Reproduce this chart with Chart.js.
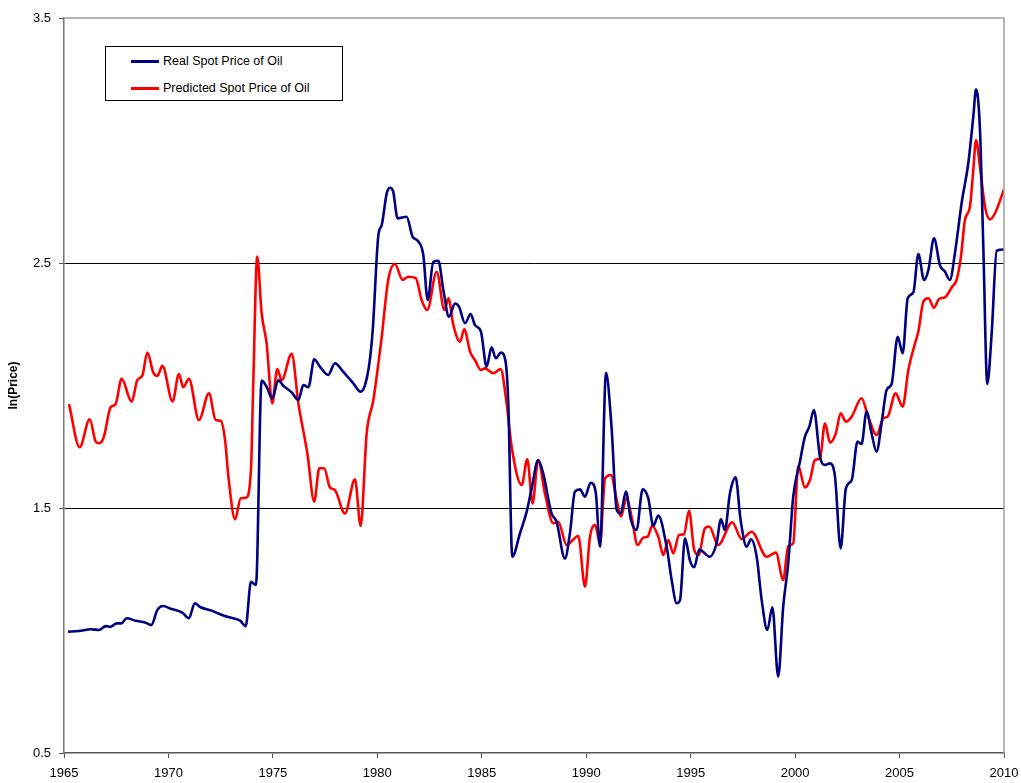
<!DOCTYPE html>
<html>
<head>
<meta charset="utf-8">
<script src="https://cdn.jsdelivr.net/npm/chart.js@4/dist/chart.umd.min.js"></script>
<style>
  body { margin:0; background:#fff; font-family:"Liberation Sans", Arial, sans-serif; }
  #wrap { position:relative; width:1021px; height:783px; }
  #legend { position:absolute; left:105px; top:46px; width:236px; height:53px; border:1px solid #000; background:#fff; font-size:12.5px; color:#000; }
  .item { position:absolute; left:25px; height:14px; line-height:14px; white-space:nowrap; }
  .item i { display:inline-block; width:28px; height:3px; vertical-align:middle; margin-right:4px; }
</style>
</head>
<body>
<div id="wrap">
  <canvas id="c" width="1021" height="783"></canvas>
  <div id="legend">
    <div class="item" style="top:7px"><i style="background:#000080"></i>Real Spot Price of Oil</div>
    <div class="item" style="top:34px"><i style="background:#ff0000"></i>Predicted Spot Price of Oil</div>
  </div>
</div>
<script>
// --- data (year, ln price) ---
const realYears = [1965.19,1965.72,1966.28,1966.68,1967.0,1967.23,1967.52,1967.75,1968.0,1968.43,1968.91,1969.18,1969.47,1969.74,1970.11,1970.66,1970.98,1971.26,1971.54,1972.10,1972.66,1973.10,1973.43,1973.70,1973.95,1974.19,1974.46,1974.70,1974.97,1975.26,1975.50,1975.90,1976.22,1976.46,1976.70,1976.98,1977.25,1977.65,1977.97,1978.37,1978.85,1979.20,1979.41,1979.62,1979.78,1980.05,1980.21,1980.45,1980.61,1980.76,1980.97,1981.40,1981.69,1981.93,1982.20,1982.41,1982.68,1982.92,1983.16,1983.43,1983.72,1983.91,1984.20,1984.47,1984.67,1984.96,1985.23,1985.47,1985.67,1985.92,1986.14,1986.27,1986.46,1986.83,1987.15,1987.39,1987.70,1987.94,1988.34,1988.58,1988.98,1989.22,1989.46,1989.70,1989.94,1990.21,1990.45,1990.66,1990.95,1991.21,1991.46,1991.65,1991.90,1992.14,1992.41,1992.70,1992.97,1993.21,1993.45,1993.85,1994.09,1994.33,1994.49,1994.73,1994.97,1995.17,1995.41,1995.92,1996.24,1996.45,1996.64,1996.88,1997.15,1997.39,1997.68,1997.89,1998.16,1998.40,1998.67,1998.91,1999.19,1999.43,1999.67,1999.91,2000.23,2000.47,2000.68,2000.90,2001.19,2001.43,2001.67,2001.91,2002.18,2002.43,2002.71,2002.99,2003.18,2003.42,2003.66,2003.90,2004.14,2004.38,2004.62,2004.91,2005.15,2005.39,2005.66,2005.90,2006.17,2006.38,2006.65,2006.93,2007.17,2007.41,2007.65,2007.97,2008.29,2008.53,2008.66,2008.85,2009.01,2009.20,2009.41,2009.65,2010.0];
const realValues = [0.995,0.998,1.005,1.002,1.018,1.015,1.029,1.029,1.050,1.040,1.032,1.022,1.084,1.100,1.089,1.073,1.050,1.111,1.095,1.080,1.060,1.050,1.040,1.018,1.199,1.186,2.020,1.995,1.948,2.022,1.999,1.972,1.941,2.002,1.993,2.107,2.077,2.043,2.091,2.056,2.009,1.975,2.002,2.091,2.227,2.614,2.655,2.784,2.807,2.791,2.682,2.689,2.607,2.591,2.533,2.349,2.505,2.509,2.390,2.281,2.335,2.322,2.254,2.292,2.247,2.220,2.077,2.156,2.111,2.134,2.097,1.927,1.301,1.397,1.485,1.580,1.696,1.641,1.478,1.444,1.294,1.397,1.567,1.576,1.546,1.603,1.567,1.342,2.052,1.832,1.492,1.478,1.567,1.451,1.410,1.576,1.540,1.427,1.469,1.342,1.206,1.111,1.124,1.376,1.284,1.258,1.330,1.301,1.356,1.454,1.410,1.560,1.625,1.451,1.342,1.372,1.301,1.124,1.002,1.095,0.811,1.097,1.274,1.546,1.689,1.791,1.832,1.900,1.709,1.676,1.682,1.628,1.335,1.580,1.614,1.771,1.761,1.893,1.805,1.730,1.846,1.982,2.006,2.199,2.131,2.356,2.380,2.537,2.431,2.471,2.601,2.492,2.465,2.431,2.540,2.744,2.907,3.097,3.209,3.043,2.567,2.006,2.213,2.550,2.555];

const predYears = [1965.24,1965.75,1966.23,1966.52,1966.68,1966.91,1967.23,1967.47,1967.76,1968.24,1968.51,1968.75,1968.99,1969.28,1969.47,1969.71,1970.20,1970.50,1970.71,1970.98,1971.46,1971.94,1972.26,1972.50,1972.71,1972.87,1973.19,1973.46,1973.71,1973.95,1974.06,1974.25,1974.46,1974.70,1974.97,1975.21,1975.42,1975.90,1976.22,1976.65,1976.98,1977.22,1977.45,1977.73,1977.97,1978.45,1978.93,1979.20,1979.49,1979.81,1980.21,1980.52,1980.84,1981.21,1981.48,1981.84,1982.12,1982.39,1982.84,1983.21,1983.40,1983.64,1983.96,1984.16,1984.44,1984.67,1984.96,1985.15,1985.55,1985.90,1986.19,1986.43,1986.91,1987.18,1987.43,1987.70,1988.02,1988.42,1988.66,1989.06,1989.62,1989.94,1990.18,1990.42,1990.66,1990.90,1991.18,1991.46,1991.66,1991.93,1992.17,1992.46,1992.73,1992.94,1993.16,1993.45,1993.69,1993.93,1994.17,1994.44,1994.68,1994.92,1995.17,1995.38,1995.68,1995.89,1996.32,1996.99,1997.44,1997.92,1998.64,1999.08,1999.43,1999.67,1999.91,2000.15,2000.47,2000.71,2000.95,2001.19,2001.43,2001.67,2001.95,2002.18,2002.43,2002.71,2003.18,2003.50,2003.90,2004.22,2004.43,2004.81,2005.15,2005.42,2005.74,2005.90,2006.14,2006.38,2006.65,2006.89,2007.17,2007.52,2007.73,2007.94,2008.13,2008.37,2008.53,2008.66,2008.85,2009.09,2009.33,2009.57,2010.0];
const predValues = [1.924,1.748,1.862,1.771,1.764,1.791,1.911,1.924,2.027,1.934,2.022,2.040,2.134,2.052,2.039,2.080,1.935,2.047,1.993,2.027,1.859,1.968,1.859,1.856,1.778,1.628,1.454,1.540,1.542,1.655,2.009,2.526,2.295,2.172,1.927,2.067,2.022,2.129,1.927,1.723,1.526,1.662,1.662,1.584,1.573,1.478,1.617,1.427,1.805,1.941,2.199,2.431,2.496,2.431,2.444,2.438,2.349,2.308,2.464,2.308,2.356,2.247,2.179,2.229,2.138,2.104,2.063,2.070,2.050,2.067,1.927,1.750,1.594,1.699,1.519,1.696,1.560,1.438,1.444,1.349,1.386,1.179,1.383,1.431,1.356,1.621,1.635,1.533,1.465,1.540,1.465,1.349,1.379,1.383,1.427,1.383,1.308,1.369,1.315,1.390,1.393,1.489,1.329,1.308,1.417,1.424,1.349,1.442,1.373,1.403,1.301,1.318,1.206,1.345,1.356,1.671,1.584,1.614,1.696,1.703,1.846,1.767,1.805,1.887,1.852,1.873,1.948,1.873,1.798,1.866,1.873,1.968,1.914,2.063,2.172,2.220,2.342,2.356,2.318,2.353,2.360,2.403,2.431,2.526,2.676,2.730,2.880,3.002,2.893,2.730,2.678,2.703,2.800];

const xTicks = [1965,1970,1975,1980,1985,1990,1995,2000,2005,2010];
const yTicks = [0.5,1.5,2.5,3.5];

const pts = (xs, ys) => xs.map((x, i) => ({ x: x, y: ys[i] }));

// top + right frame of the plot area
const frame = {
  id: 'frame',
  afterDraw(chart) {
    const a = chart.chartArea, ctx = chart.ctx;
    ctx.save();
    ctx.strokeStyle = '#a0a0a0';
    ctx.lineWidth = 1.5;
    ctx.beginPath();
    ctx.moveTo(a.left, a.top);
    ctx.lineTo(a.right, a.top);
    ctx.lineTo(a.right, a.bottom);
    ctx.stroke();
    ctx.restore();
  }
};

const font = { family: '"Liberation Sans", Arial, sans-serif', size: 13 };

new Chart(document.getElementById('c'), {
  type: 'line',
  data: {
    datasets: [
      { label: 'Real Spot Price of Oil', data: pts(realYears, realValues), borderColor: '#000080', borderWidth: 2.6 },
      { label: 'Predicted Spot Price of Oil', data: pts(predYears, predValues), borderColor: '#ff0000', borderWidth: 2.6 }
    ]
  },
  options: {
    responsive: false,
    animation: false,
    elements: { point: { radius: 0 }, line: { cubicInterpolationMode: 'monotone' } },
    layout: { padding: { top: 18, right: 17, left: 0, bottom: 0 } },
    plugins: { legend: { display: false }, tooltip: { enabled: false } },
    scales: {
      x: {
        type: 'linear', min: 1965, max: 2010,
        afterBuildTicks: s => { s.ticks = xTicks.map(v => ({ value: v })); },
        afterFit: s => { s.height = 30; s.paddingRight = 0; s.paddingLeft = 0; },
        ticks: { color: '#000', font: font, padding: 8, maxRotation: 0, callback: v => String(v) },
        grid: { drawOnChartArea: false, tickLength: 5, tickColor: '#555' },
        border: { color: '#555', width: 1.5 }
      },
      y: {
        min: 0.5, max: 3.5,
        afterBuildTicks: s => { s.ticks = yTicks.map(v => ({ value: v })); },
        afterFit: s => { s.width = 64; },
        ticks: { color: '#000', font: font, padding: 8, callback: v => v.toFixed(1) },
        grid: {
          tickLength: 5, tickColor: '#555', lineWidth: 1,
          color: c => (c.tick && (c.tick.value === 1.5 || c.tick.value === 2.5)) ? '#000' : 'rgba(0,0,0,0)'
        },
        border: { color: '#777', width: 1.5 },
        title: { display: true, text: 'ln(Price)', color: '#000', padding: { top: 6, bottom: 0 },
                 font: { family: '"Liberation Sans", Arial, sans-serif', size: 12, weight: 'bold' } }
      }
    }
  },
  plugins: [frame]
});
</script>
</body>
</html>
